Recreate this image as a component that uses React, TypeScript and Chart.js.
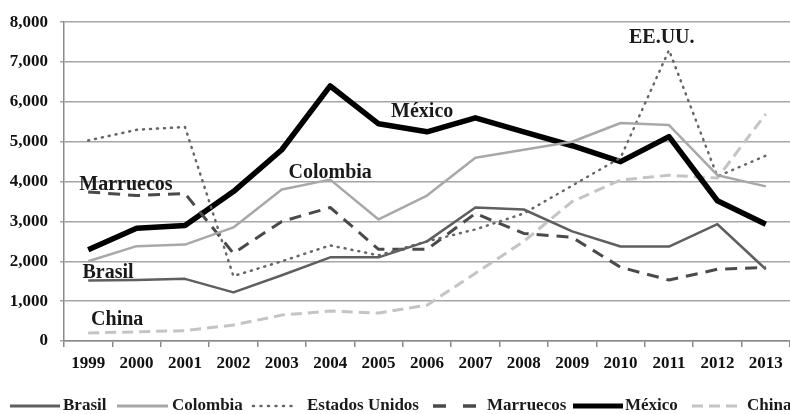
import React, { useEffect, useRef } from "react";
import { Chart, registerables } from "chart.js";

Chart.register(...registerables);

const years = ["1999","2000","2001","2002","2003","2004","2005","2006","2007","2008","2009","2010","2011","2012","2013"];
const brasil = [1520,1530,1560,1220,1650,2100,2100,2500,3350,3300,2750,2370,2370,2930,1800];
const colombia = [2000,2380,2420,2850,3800,4050,3050,3650,4600,4800,5000,5470,5420,4160,3880];
const estadosUnidos = [5030,5300,5370,1630,2000,2400,2150,2500,2800,3200,3900,4600,7300,4130,4650];
const marruecos = [3740,3650,3700,2200,3000,3350,2300,2300,3200,2700,2600,1850,1530,1800,1850];
const mexico = [2290,2830,2900,3750,4800,6400,5450,5250,5600,5250,4900,4500,5130,3520,2930];
const china = [200,230,260,400,650,750,700,900,1700,2500,3500,4040,4160,4090,5700];

const annotationTexts = ["Marruecos","Colombia","México","EE.UU.","Brasil","China"];
const annotationIndex = [0.78,5.0,6.9,11.85,0.41,0.6];
const annotationValues = [3920,4210,5740,7610,1700,520];

const SERIF = "'Liberation Serif', 'DejaVu Serif', serif";

const styles = [
  { label: "Brasil", data: brasil, color: "#5f5f5f", width: 2.5, dash: [] as number[] },
  { label: "Colombia", data: colombia, color: "#a8a8a8", width: 2.5, dash: [] as number[] },
  { label: "Estados Unidos", data: estadosUnidos, color: "#666666", width: 2.5, dash: [1, 6] },
  { label: "Marruecos", data: marruecos, color: "#4a4a4a", width: 3, dash: [12, 8] },
  { label: "México", data: mexico, color: "#000000", width: 5.5, dash: [] as number[] },
  { label: "China", data: china, color: "#c4c4c4", width: 3, dash: [11, 6] },
];

const legendStart = [10, 117, 253, 433, 573, 692];
const legendLen = [50, 51, 42, 45, 50, 45];
const legendTextX = [63, 172, 307, 487, 625, 747];
const legendWidth = [3, 3, 2.5, 3.5, 5, 3];
const legendDash = [[], [], [1, 6.5], [13, 17], [], [11, 6]];

const overlayPlugin = {
  id: "overlay",
  afterDraw(chart: any) {
    const ctx = chart.ctx;
    const xs = chart.scales.x;
    const ys = chart.scales.y;
    ctx.save();
    ctx.fillStyle = "#1a1a1a";
    ctx.font = `bold 20px ${SERIF}`;
    ctx.textAlign = "center";
    ctx.textBaseline = "middle";
    annotationTexts.forEach((t, i) => {
      ctx.fillText(t, xs.getPixelForValue(annotationIndex[i]), ys.getPixelForValue(annotationValues[i]));
    });
    // legend
    const ly = 406;
    ctx.font = `bold 17px ${SERIF}`;
    ctx.textAlign = "left";
    chart.data.datasets.forEach((ds: any, i: number) => {
      const x0 = legendStart[i];
      ctx.beginPath();
      ctx.strokeStyle = ds.borderColor;
      ctx.lineWidth = legendWidth[i];
      ctx.setLineDash(legendDash[i]);
      ctx.lineCap = i === 2 ? "round" : "butt";
      ctx.moveTo(x0, ly);
      ctx.lineTo(x0 + legendLen[i], ly);
      ctx.stroke();
      ctx.setLineDash([]);
      ctx.fillStyle = "#1a1a1a";
      ctx.fillText(ds.label, legendTextX[i], ly);
    });
    ctx.restore();
  },
};

export default function App() {
  const ref = useRef<HTMLCanvasElement>(null);
  useEffect(() => {
    document.body.style.margin = "0";
    const chart = new Chart(ref.current!, {
      type: "line",
      data: {
        labels: years,
        datasets: styles.map((s) => ({
          label: s.label,
          data: s.data,
          borderColor: s.color,
          backgroundColor: s.color,
          borderWidth: s.width,
          borderDash: s.dash,
          borderCapStyle: s.label === "Estados Unidos" ? "round" : "butt",
          borderJoinStyle: "round",
          pointRadius: 0,
          tension: 0,
          fill: false,
        })),
      },
      options: {
        animation: false,
        responsive: false,
        layout: { padding: { top: 16, right: 0, left: 0, bottom: 38 } },
        plugins: { legend: { display: false }, tooltip: { enabled: false } },
        scales: {
          x: {
            offset: true,
            grid: { display: true, drawOnChartArea: false, offset: true, tickLength: 6, color: "#8a8a8a", lineWidth: 1.5 },
            border: { display: true, color: "#8a8a8a", width: 1.5 },
            ticks: { color: "#111", font: { family: SERIF, size: 17, weight: "bold" }, padding: 6, maxRotation: 0, autoSkip: false },
            afterFit: (s: any) => { s.height = 35; },
          },
          y: {
            min: 0,
            max: 8000,
            grid: { color: "#a6a6a6", lineWidth: 1.5, tickLength: 4 },
            border: { display: true, color: "#8a8a8a", width: 1.5 },
            ticks: {
              stepSize: 1000,
              color: "#111",
              padding: 12,
              font: { family: SERIF, size: 17, weight: "bold" },
              callback: (v: any) => Number(v).toLocaleString("en-US"),
            },
            afterFit: (s: any) => { s.width = 64; },
          },
        },
      },
      plugins: [overlayPlugin],
    });
    return () => chart.destroy();
  }, []);
  return (
    <div style={{ width: 790, height: 414 }}>
      <canvas ref={ref} width={790} height={414} style={{ width: 790, height: 414 }} />
    </div>
  );
}
